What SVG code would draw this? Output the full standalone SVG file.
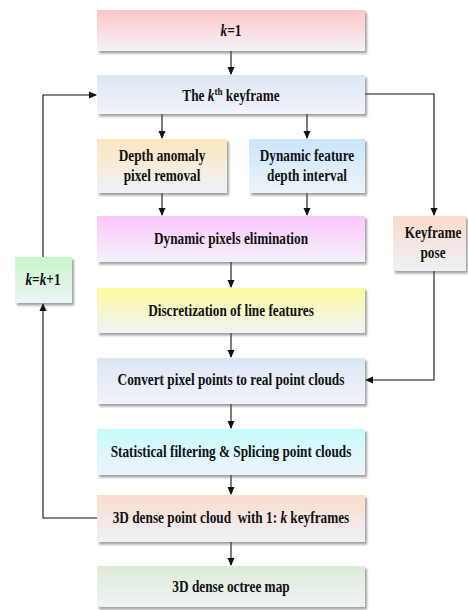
<svg xmlns="http://www.w3.org/2000/svg" width="468" height="610" viewBox="0 0 468 610">
<style>
text{font-family:"Liberation Serif","Times New Roman",serif;font-weight:bold;font-size:16px;fill:#111;text-anchor:middle}
.i{font-style:italic}
.box{filter:url(#sh)}
.c{fill:none;stroke:#111;stroke-width:1.1}
</style>
<defs>
<filter id="sh" x="-10%" y="-20%" width="130%" height="150%"><feDropShadow dx="2" dy="2.5" stdDeviation="1.3" flood-color="#555" flood-opacity="0.55"/></filter>
<marker id="ah" markerWidth="8" markerHeight="8" refX="7" refY="4" orient="auto" markerUnits="userSpaceOnUse"><path d="M0,0.5 L8,4 L0,7.5 Z" fill="#111"/></marker>
<linearGradient id="g1" x1="0" y1="0" x2="0" y2="1"><stop offset="0" stop-color="#ffc6c6"/><stop offset="1" stop-color="#f3f3f8"/></linearGradient>
<linearGradient id="g2" x1="0" y1="0" x2="0" y2="1"><stop offset="0" stop-color="#dce7f4"/><stop offset="1" stop-color="#f1f4fa"/></linearGradient>
<linearGradient id="g3" x1="0" y1="0" x2="0" y2="1"><stop offset="0" stop-color="#fde6bc"/><stop offset="1" stop-color="#eff2f9"/></linearGradient>
<linearGradient id="g4" x1="0" y1="0" x2="0" y2="1"><stop offset="0" stop-color="#c8e6fb"/><stop offset="1" stop-color="#eef3fa"/></linearGradient>
<linearGradient id="g5" x1="0" y1="0" x2="0" y2="1"><stop offset="0" stop-color="#fcc6fc"/><stop offset="1" stop-color="#f2f2fa"/></linearGradient>
<linearGradient id="g6" x1="0" y1="0" x2="0" y2="1"><stop offset="0" stop-color="#f9dcc8"/><stop offset="1" stop-color="#eff1f8"/></linearGradient>
<linearGradient id="g7" x1="0" y1="0" x2="0" y2="1"><stop offset="0" stop-color="#c6f8c6"/><stop offset="1" stop-color="#eff3f8"/></linearGradient>
<linearGradient id="g8" x1="0" y1="0" x2="0" y2="1"><stop offset="0" stop-color="#fcfc9c"/><stop offset="1" stop-color="#f0f2f8"/></linearGradient>
<linearGradient id="g9" x1="0" y1="0" x2="0" y2="1"><stop offset="0" stop-color="#c6fcfc"/><stop offset="1" stop-color="#eff3fa"/></linearGradient>
<linearGradient id="g10" x1="0" y1="0" x2="0" y2="1"><stop offset="0" stop-color="#fadccc"/><stop offset="1" stop-color="#eff1f8"/></linearGradient>
<linearGradient id="g11" x1="0" y1="0" x2="0" y2="1"><stop offset="0" stop-color="#dcecd6"/><stop offset="1" stop-color="#eff3f8"/></linearGradient>
</defs>

<g id="connectors">
<line class="c" x1="231" y1="51" x2="231" y2="74" marker-end="url(#ah)"/>
<line class="c" x1="162" y1="114" x2="162" y2="138" marker-end="url(#ah)"/>
<line class="c" x1="307" y1="114" x2="307" y2="138" marker-end="url(#ah)"/>
<line class="c" x1="162" y1="193" x2="162" y2="215" marker-end="url(#ah)"/>
<line class="c" x1="307" y1="193" x2="307" y2="215" marker-end="url(#ah)"/>
<line class="c" x1="231" y1="262" x2="231" y2="287" marker-end="url(#ah)"/>
<line class="c" x1="231" y1="333" x2="231" y2="357" marker-end="url(#ah)"/>
<line class="c" x1="231" y1="404" x2="231" y2="428" marker-end="url(#ah)"/>
<line class="c" x1="231" y1="475" x2="231" y2="494" marker-end="url(#ah)"/>
<line class="c" x1="231" y1="542" x2="231" y2="565" marker-end="url(#ah)"/>
<polyline class="c" points="365,94 434,94 434,215" marker-end="url(#ah)"/>
<polyline class="c" points="434,271 434,380 366,380" marker-end="url(#ah)"/>
<polyline class="c" points="97,518 43,518 43,304" marker-end="url(#ah)"/>
<polyline class="c" points="43,257 43,95 96,95" marker-end="url(#ah)"/>
</g>

<g id="n-k1"><rect class="box" x="97" y="10" width="268" height="41" fill="url(#g1)"/><g transform="translate(231,0) scale(0.83,1)"><text x="0" y="36"><tspan class="i">k</tspan>=1</text></g></g>
<g id="n-keyframe"><rect class="box" x="97" y="75" width="268" height="39" fill="url(#g2)"/><g transform="translate(231,0) scale(0.83,1)"><text x="0" y="101">The <tspan class="i">k</tspan><tspan font-size="11" dy="-6">th</tspan><tspan dy="6"> keyframe</tspan></text></g></g>
<g id="n-depth-anomaly"><rect class="box" x="97" y="139" width="130" height="54" fill="url(#g3)"/><g transform="translate(162,0) scale(0.83,1)"><text x="0" y="161">Depth anomaly</text><text x="0" y="181">pixel removal</text></g></g>
<g id="n-dyn-feature"><rect class="box" x="249" y="139" width="116" height="54" fill="url(#g4)"/><g transform="translate(307,0) scale(0.83,1)"><text x="0" y="161">Dynamic feature</text><text x="0" y="181">depth interval</text></g></g>
<g id="n-dyn-pixels"><rect class="box" x="97" y="216" width="268" height="46" fill="url(#g5)"/><g transform="translate(231,0) scale(0.83,1)"><text x="0" y="244">Dynamic pixels elimination</text></g></g>
<g id="n-pose"><rect class="box" x="393" y="216" width="73" height="55" fill="url(#g6)"/><g transform="translate(433,0) scale(0.83,1)"><text x="0" y="238">Keyframe</text><text x="0" y="258">pose</text></g></g>
<g id="n-kk1"><rect class="box" x="15" y="257" width="57" height="46" fill="url(#g7)"/><g transform="translate(43,0) scale(0.83,1)"><text x="0" y="285"><tspan class="i">k</tspan>=<tspan class="i">k</tspan>+1</text></g></g>
<g id="n-discretization"><rect class="box" x="97" y="288" width="268" height="45" fill="url(#g8)"/><g transform="translate(231,0) scale(0.83,1)"><text x="0" y="316">Discretization of line features</text></g></g>
<g id="n-convert"><rect class="box" x="97" y="358" width="268" height="46" fill="url(#g2)"/><g transform="translate(231,0) scale(0.83,1)"><text x="0" y="385">Convert pixel points to real point clouds</text></g></g>
<g id="n-statistical"><rect class="box" x="97" y="429" width="268" height="46" fill="url(#g9)"/><g transform="translate(231,0) scale(0.83,1)"><text x="0" y="457">Statistical filtering &amp; Splicing point clouds</text></g></g>
<g id="n-dense"><rect class="box" x="97" y="495" width="268" height="47" fill="url(#g10)"/><g transform="translate(231,0) scale(0.83,1)"><text x="0" y="523" xml:space="preserve">3D dense point cloud  with 1: <tspan class="i">k</tspan> keyframes</text></g></g>
<g id="n-octree"><rect class="box" x="97" y="566" width="268" height="41" fill="url(#g11)"/><g transform="translate(231,0) scale(0.83,1)"><text x="0" y="592">3D dense octree map</text></g></g>
</svg>
